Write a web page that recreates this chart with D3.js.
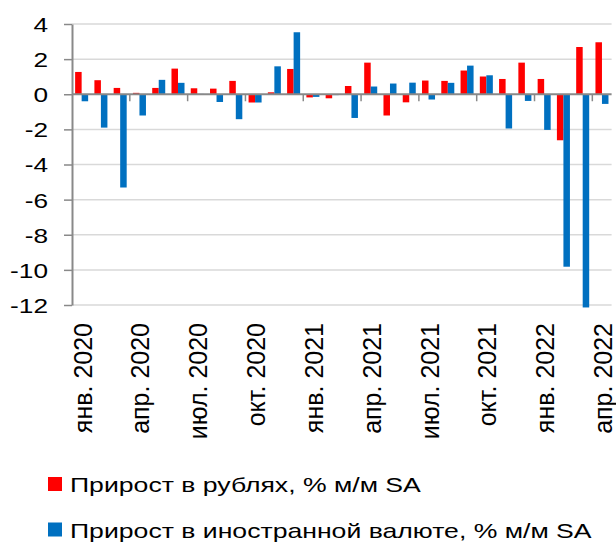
<!DOCTYPE html>
<html lang="ru">
<head>
<meta charset="UTF-8">
<title>Прирост</title>
<script src="https://d3js.org/d3.v7.min.js"></script>
<style>
  body { margin: 0; background: #fff; }
  text { font-family: Arial, "Liberation Sans", sans-serif; fill: #000; }
</style>
</head>
<body>
<div class="chart"></div>
<script>
// categories: янв. 2020 .. апр. 2022
const monthNames = ["янв.", "фев.", "мар.", "апр.", "май", "июн.", "июл.", "авг.", "сен.", "окт.", "ноя.", "дек."];
const categories = [];
for (let yr = 2020; yr <= 2022; yr++) {
    monthNames.forEach((m, i) => {
        if (yr < 2022 || i < 4) categories.push(m + " " + yr);
    });
}

// series values, % м/м SA
const rubGrowth = [1.27, 0.80, 0.36, 0.08, 0.36, 1.46, 0.34, 0.32, 0.76, -0.47, 0.11, 1.44,
    -0.18, -0.23, 0.47, 1.80, -1.21, -0.46, 0.78, 0.76, 1.35, 1.01, 0.87, 1.80,
    0.87, -2.62, 2.69, 2.96];
const fxGrowth = [-0.40, -1.90, -5.31, -1.21, 0.82, 0.65, 0.02, -0.44, -1.42, -0.47, 1.59, 3.53,
    -0.15, -0.05, -1.35, 0.44, 0.61, 0.66, -0.30, 0.65, 1.63, 1.08, -1.95, -0.38,
    -2.03, -9.82, -12.14, -0.55];

const seriesNames = ["Прирост в рублях, % м/м SA", "Прирост в иностранной валюте, % м/м SA"];
const seriesColors = ["#ff0000", "#0070c0"];
const yTicks = [4, 2, 0, -2, -4, -6, -8, -10, -12];

const w = 616, h = 545;
const plotLeft = 72, plotRight = 611.6, plotTop = 24, plotBottom = 305;
const sx = 1.28; // horizontal stretch of the text in the picture

const svg = d3.select(".chart").append("svg")
    .attr("width", w)
    .attr("height", h);

const x = d3.scaleBand()
    .domain(d3.range(categories.length))
    .range([plotLeft, plotRight]);

const xInner = d3.scaleBand()
    .domain([0, 1])
    .range([0, x.bandwidth()])
    .paddingOuter(0.48);

const y = d3.scaleLinear()
    .domain([-12, 4])
    .range([plotBottom, plotTop]);

// gridlines
svg.append("g")
    .selectAll("line")
    .data(yTicks.filter(d => d !== 0))
    .join("line")
    .attr("x1", plotLeft).attr("x2", plotRight)
    .attr("y1", d => y(d)).attr("y2", d => y(d))
    .attr("stroke", "#d9d9d9")
    .attr("stroke-width", 1.5);

// y axis
const yAxis = svg.append("g")
    .attr("transform", `translate(${plotLeft},0)`)
    .call(d3.axisLeft(y).tickValues(yTicks).tickSize(8).tickSizeOuter(0).tickFormat(d => String(d)));
yAxis.select(".domain").attr("stroke", "#898989").attr("stroke-width", 2);
yAxis.selectAll(".tick line").attr("stroke", "#898989").attr("stroke-width", 1.5);
yAxis.selectAll(".tick text")
    .attr("x", null)
    .attr("dy", "0.36em")
    .attr("transform", `translate(-24,0) scale(${sx},1)`)
    .attr("text-anchor", "end")
    .style("font-size", "20.5px");

// bars
const series = [rubGrowth, fxGrowth];
series.forEach((vals, s) => {
    svg.append("g")
        .selectAll("rect")
        .data(vals)
        .join("rect")
        .attr("x", (d, i) => x(i) + xInner(s))
        .attr("width", xInner.bandwidth())
        .attr("y", d => y(Math.max(0, d)))
        .attr("height", d => Math.abs(y(d) - y(0)))
        .attr("fill", seriesColors[s]);
});

// category axis at zero
svg.append("line")
    .attr("x1", plotLeft).attr("x2", plotRight)
    .attr("y1", y(0)).attr("y2", y(0))
    .attr("stroke", "#898989")
    .attr("stroke-width", 2);

svg.append("g")
    .selectAll("line")
    .data(d3.range(3, categories.length, 3))
    .join("line")
    .attr("x1", i => x(i)).attr("x2", i => x(i))
    .attr("y1", y(0)).attr("y2", y(0) + 7)
    .attr("stroke", "#898989")
    .attr("stroke-width", 1.5);

// category labels (every 3rd month)
svg.append("g")
    .selectAll("text")
    .data(categories.map((c, i) => ({ c, i })).filter(d => d.i % 3 === 0))
    .join("text")
    .attr("transform", d => `translate(${x(d.i) + x.bandwidth() / 2 + 1},323) rotate(-90)`)
    .attr("dy", "0.36em")
    .attr("text-anchor", "end")
    .style("font-size", "25px")
    .text(d => d.c);

// legend
const legend = svg.append("g")
    .selectAll("g")
    .data(seriesNames)
    .join("g")
    .attr("transform", (d, i) => `translate(48,${477 + i * 45.5})`);

legend.append("rect")
    .attr("width", 14)
    .attr("height", 14)
    .attr("fill", (d, i) => seriesColors[i]);

legend.append("text")
    .attr("transform", `translate(22,15) scale(${sx},1)`)
    .style("font-size", "20.8px")
    .text(d => d);
</script>
</body>
</html>
